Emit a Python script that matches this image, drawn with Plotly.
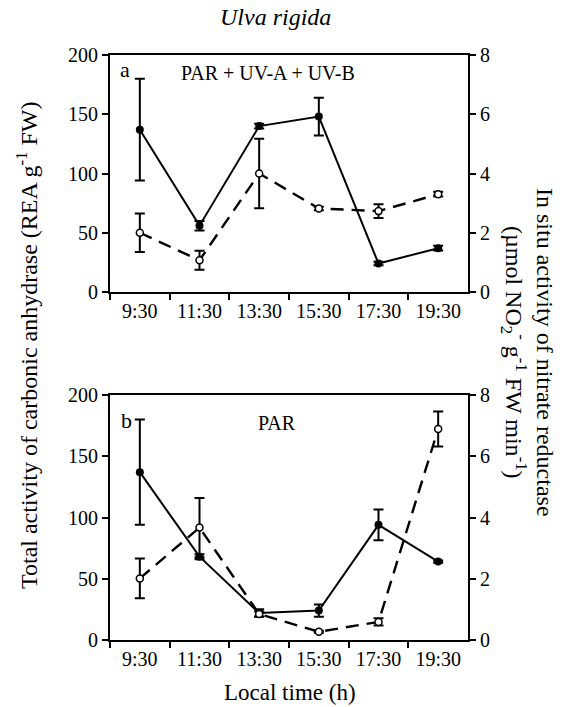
import plotly.graph_objects as go

# ---- data ----
times = ["9:30", "11:30", "13:30", "15:30", "17:30", "19:30"]

# panel a: PAR + UV-A + UV-B
ca_a = [137, 56, 140, 148, 24, 37]
ca_a_err = [43, 4, 2, 16, 1.5, 2]
nr_a = [2.0, 1.07, 4.0, 2.82, 2.73, 3.3]
nr_a_err = [0.65, 0.32, 1.17, 0.06, 0.23, 0.08]

# panel b: PAR
ca_b = [137, 68, 22, 24, 94, 64]
ca_b_err = [43, 2, 3, 5, 12.5, 1]
nr_b = [2.01, 3.67, 0.85, 0.27, 0.59, 6.89]
nr_b_err = [0.65, 0.97, 0.08, 0.03, 0.12, 0.57]

left_ticks = [0, 50, 100, 150, 200]
right_ticks = [0, 2, 4, 6, 8]

W, H = 569, 707
FONT = "Liberation Serif"


def fx(p):
    return p / W


def fy(p):
    return 1 - p / H


fig = go.Figure()


def add_panel(xa, ya, yb, ca, ca_err, nr, nr_err):
    fig.add_trace(go.Scatter(
        x=times, y=ca, xaxis=xa, yaxis=ya, mode="lines+markers",
        line=dict(color="black", width=2),
        marker=dict(symbol="circle", size=8, color="black"),
        error_y=dict(type="data", array=ca_err, visible=True,
                     color="black", thickness=2, width=5),
        showlegend=False))
    fig.add_trace(go.Scatter(
        x=times, y=nr, xaxis=xa, yaxis=yb, mode="lines+markers",
        line=dict(color="black", width=2.4, dash="13px,8px"),
        marker=dict(symbol="circle", size=7, color="white",
                    line=dict(color="black", width=1.5)),
        error_y=dict(type="data", array=nr_err, visible=True,
                     color="black", thickness=2, width=5),
        showlegend=False))


add_panel("x", "y", "y2", ca_a, ca_a_err, nr_a, nr_a_err)
add_panel("x2", "y3", "y4", ca_b, ca_b_err, nr_b, nr_b_err)

tickfont = dict(family=FONT, size=20, color="black")
xcommon = dict(type="category", tickson="boundaries", ticks="outside",
               ticklen=6, tickwidth=2, tickcolor="black", automargin=False,
               showline=True, linewidth=2, linecolor="black", mirror=True,
               showgrid=False, zeroline=False, tickfont=tickfont,
               domain=[fx(110), fx(468)], range=[-0.5, 5.5])
ycommon_l = dict(range=[0, 200], tickvals=left_ticks, ticks="outside",
                 ticklen=6, tickwidth=2, tickcolor="black", automargin=False,
                 showline=True, linewidth=2, linecolor="black",
                 showgrid=False, zeroline=False, tickfont=tickfont)
ycommon_r = dict(range=[0, 8], tickvals=right_ticks, ticks="outside",
                 ticklen=6, tickwidth=2, tickcolor="black", side="right",
                 automargin=False,
                 showline=True, linewidth=2, linecolor="black",
                 showgrid=False, zeroline=False, tickfont=tickfont)

fig.update_layout(
    width=W, height=H,
    margin=dict(l=0, r=0, t=0, b=0, pad=0, autoexpand=False),
    paper_bgcolor="white", plot_bgcolor="white",
    xaxis=dict(xcommon, anchor="y"),
    yaxis=dict(ycommon_l, anchor="x", domain=[fy(292), fy(55)]),
    yaxis2=dict(ycommon_r, anchor="x", overlaying="y"),
    xaxis2=dict(xcommon, anchor="y3"),
    yaxis3=dict(ycommon_l, anchor="x2", domain=[fy(640), fy(395)]),
    yaxis4=dict(ycommon_r, anchor="x2", overlaying="y3"),
)

ann_font = dict(family=FONT, size=20, color="black")
title_font = dict(family=FONT, size=24, color="black")
anns = [
    dict(x=fx(275), y=fy(17), text="<i>Ulva rigida</i>",
         font=dict(family=FONT, size=24, color="black")),
    dict(x=fx(125), y=fy(70), text="a", font=dict(family=FONT, size=22, color="black")),
    dict(x=fx(268), y=fy(73), text="PAR + UV-A + UV-B", font=ann_font),
    dict(x=fx(126), y=fy(420), text="b", font=dict(family=FONT, size=22, color="black")),
    dict(x=fx(277), y=fy(423), text="PAR", font=ann_font),
    dict(x=fx(290), y=fy(692), text="Local time (h)",
         font=dict(family=FONT, size=23, color="black")),
    dict(x=fx(27), y=fy(345),
         text="Total activity of carbonic anhydrase (REA g<sup>-1</sup> FW)",
         textangle=-90, font=title_font),
    dict(x=fx(528), y=fy(352),
         text="In situ activity of nitrate reductase<br>"
              "(µmol NO<sub>2</sub><sup>-</sup> g<sup>-1</sup> FW min<sup>-1</sup>)",
         textangle=90, font=title_font),
]
for a in anns:
    a.update(xref="paper", yref="paper", showarrow=False,
             xanchor="center", yanchor="middle")
fig.update_layout(annotations=anns)

fig.write_html("out.html",
               config={"displayModeBar": False},
               post_script="document.body.style.margin='0';document.body.style.overflow='hidden';")
